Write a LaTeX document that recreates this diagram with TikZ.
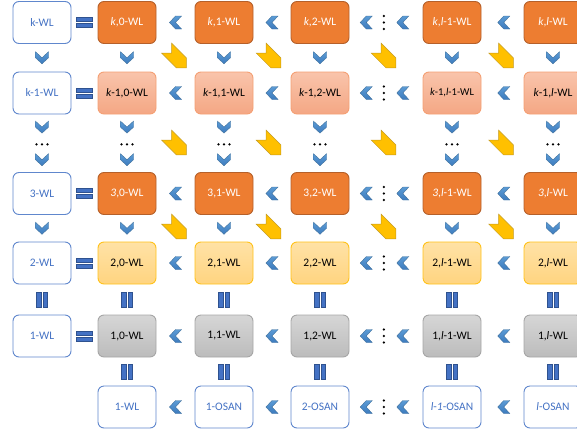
\documentclass[tikz,border=0pt]{standalone}
\usepackage{fontspec}
\setmainfont{Carlito}
\usetikzlibrary{calc}
\definecolor{orangeF}{HTML}{ED7D31}
\definecolor{orangeD}{HTML}{B5602A}
\definecolor{salT}{HTML}{F9C4AB}
\definecolor{salB}{HTML}{F4A784}
\definecolor{salD}{HTML}{F4A074}
\definecolor{yelT}{HTML}{FFE2A6}
\definecolor{yelB}{HTML}{FFD480}
\definecolor{yelD}{HTML}{FFC21A}
\definecolor{gryT}{HTML}{D6D6D6}
\definecolor{gryB}{HTML}{BCBCBC}
\definecolor{gryD}{HTML}{A6A6A6}
\definecolor{bluT}{HTML}{4472C4}
\definecolor{bluD}{HTML}{2F528F}
\definecolor{chevT}{HTML}{5B9BD5}
\definecolor{chevB}{HTML}{3D7BBE}
\definecolor{chevD}{HTML}{41719C}
\definecolor{arrY}{HTML}{FFC000}
\definecolor{arrYD}{HTML}{C49A1E}
\tikzset{
  box/.style={rounded corners=6pt, minimum width=58pt, minimum height=42pt,
    line width=0.9pt, inner sep=1pt, font=\fontsize{11.5}{13}\selectfont},
  wl/.style={box, draw=bluT!85, fill=white, text=bluT},
  rA/.style={box, draw=orangeD, fill=orangeF, text=white},
  rB/.style={box, draw=salD, top color=salT, bottom color=salB, text=black},
  rD/.style={box, draw=yelD, top color=yelT, bottom color=yelB, text=black},
  rE/.style={box, draw=gryD, top color=gryT, bottom color=gryB, text=black},
  chevst/.style={draw=chevD, line width=0.4pt, top color=chevT, bottom color=chevB},
  barst/.style={draw=bluD, line width=0.4pt, fill=bluT},
  lchev/.pic={\path[chevst] (6,-6.5) -- (0,0) -- (6,6.5) -- (0,6.5) -- (-6,0) -- (0,-6.5) -- cycle;},
  dchev/.pic={\path[chevst] (-6.5,-6) -- (0,0) -- (6.5,-6) -- (6.5,0) -- (0,6) -- (-6.5,0) -- cycle;},
  eqs/.pic={\path[barst] (-8,-5) rectangle (8,-1); \path[barst] (-8,1) rectangle (8,5);},
  vbars/.pic={\path[barst] (-5.5,-7.5) rectangle (-1,7.5); \path[barst] (1,-7.5) rectangle (5.5,7.5);},
  hdots/.pic={\foreach \i in {-5.5,0,5.5}{\fill[black] (\i,0) circle (1.3);}},
  vdots/.pic={\foreach \i in {-6.5,0,6.5}{\fill[black] (0,\i) circle (1.3);}},
  yarr/.pic={\path[draw=arrYD, line width=0.5pt, fill=arrY]
     (-2.47,-12.37) -- (12.37,2.47) -- (12.37,12.37) -- (2.47,12.37) -- (-12.37,-2.47) -- (-2.47,-2.47) -- cycle;}
}
\begin{document}
\begin{tikzpicture}[x=1pt,y=-1pt]
\useasboundingbox (0,0) rectangle (577,431);
% row a (k)
\node[wl] (a0) at (42,22.5) {k-WL};
\node[rA] (a1) at (127,22.5) {\textit{k},0-WL};
\node[rA] (a2) at (224,22.5) {\textit{k},1-WL};
\node[rA] (a3) at (320,22.5) {\textit{k},2-WL};
\node[rA] (a4) at (452,22.5) {\textit{k},\textit{l}-1-WL};
\node[rA] (a5) at (553,22.5) {\textit{k},\textit{l}-WL};
% row b (k-1)
\node[wl] (b0) at (42,93) {k-1-WL};
\node[rB] (b1) at (127,93) {\textit{k}-1,0-WL};
\node[rB] (b2) at (224,93) {\textit{k}-1,1-WL};
\node[rB] (b3) at (320,93) {\textit{k}-1,2-WL};
\node[rB,font=\fontsize{10.5}{12}\selectfont] (b4) at (452,93) {\textit{k}-1,\textit{l}-1-WL};
\node[rB] (b5) at (553,93) {\textit{k}-1,\textit{l}-WL};
% row c (3)
\node[wl] (c0) at (42,193.5) {3-WL};
\node[rA] (c1) at (127,193.5) {\textit{3},0-WL};
\node[rA] (c2) at (224,193.5) {3,1-WL};
\node[rA] (c3) at (320,193.5) {3,2-WL};
\node[rA] (c4) at (452,193.5) {\textit{3},\textit{l}-1-WL};
\node[rA] (c5) at (553,193.5) {\textit{3},\textit{l}-WL};
% row d (2)
\node[wl] (d0) at (42,263) {2-WL};
\node[rD] (d1) at (127,263) {2,0-WL};
\node[rD] (d2) at (224,263) {2,1-WL};
\node[rD] (d3) at (320,263) {2,2-WL};
\node[rD] (d4) at (452,263) {2,\textit{l}-1-WL};
\node[rD] (d5) at (553,263) {2,\textit{l}-WL};
% row e (1)
\node[wl] (e0) at (42,336) {1-WL};
\node[rE] (e1) at (127,336) {1,0-WL};
\node[rE] (e2) at (224,336) {1,1-WL};
\node[rE] (e3) at (320,336) {1,2-WL};
\node[rE] (e4) at (452,336) {1,\textit{l}-1-WL};
\node[rE] (e5) at (553,336) {1,\textit{l}-WL};
% row f (bottom)
\node[wl] (f1) at (127,407) {1-WL};
\node[wl] (f2) at (224,407) {1-OSAN};
\node[wl] (f3) at (320,407) {2-OSAN};
\node[wl] (f4) at (452,407) {\textit{l}-\textit{1}-OSAN};
\node[wl] (f5) at (553,407) {\textit{l}-OSAN};
% equal signs
\foreach \r in {a,b,c,d,e}{
  \pic at ($(\r0.east)!0.5!(\r1.west)$) {eqs};
}
% left chevrons
\foreach \r in {a,b,c,d,e,f}{
  \pic at ($(\r1.east)!0.5!(\r2.west)$) {lchev};
  \pic at ($(\r2.east)!0.5!(\r3.west)$) {lchev};
  \pic at ($(\r3.east)!0.23!(\r4.west)$) {lchev};
  \pic at ($(\r3.east)!0.47!(\r4.west)$) {vdots};
  \pic at ($(\r3.east)!0.73!(\r4.west)$) {lchev};
  \pic at ($(\r4.east)!0.53!(\r5.west)$) {lchev};
}
% vertical connectors
\foreach \c in {0,...,5}{
  \pic at ($(a\c.south)!0.5!(b\c.north)$) {dchev};
  \pic at ($(b\c.south)!0.22!(c\c.north)$) {dchev};
  \pic at ($(b\c.south)!0.52!(c\c.north)$) {hdots};
  \pic at ($(b\c.south)!0.786!(c\c.north)$) {dchev};
  \pic at ($(c\c.south)!0.5!(d\c.north)$) {dchev};
  \pic at ($(d\c.south)!0.5!(e\c.north)$) {vbars};
}
\foreach \c in {1,...,5}{
  \pic at ($(e\c.south)!0.5!(f\c.north)$) {vbars};
}
% yellow diagonal arrows
\foreach \y in {55.5,142.5,226.5}{
  \foreach \x in {174,268.5,383.5,501}{
    \pic at (\x,\y) {yarr};
  }
}
\end{tikzpicture}
\end{document}
